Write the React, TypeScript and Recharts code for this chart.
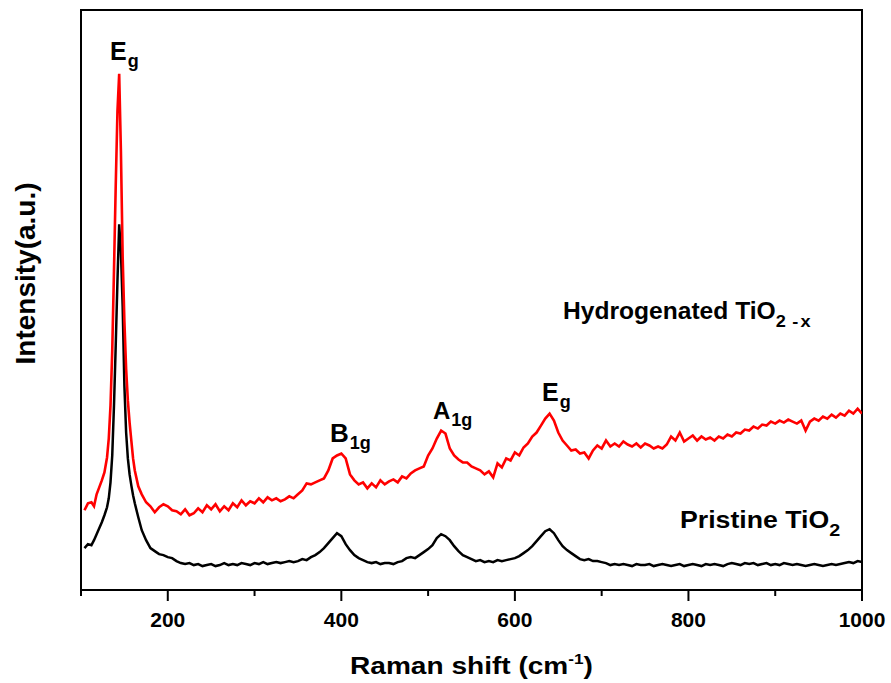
import { LineChart, Line, XAxis, YAxis, ReferenceArea } from 'recharts'

// Raman shift (cm-1), denser sampling around the big Eg peak
const ramanShift = [
  104, 108, 112, 115, 118, 121, 124, 127, 130, 132,
  134, 136, 138, 140, 142, 144, 146, 148, 150, 152,
  154, 156, 158, 160, 162, 166, 170, 175, 180, 185,
  190, 195,
  200, 205, 210, 215, 220, 225, 230, 235, 240, 245,
  250, 255, 260, 265, 270, 275, 280, 285, 290, 295,
  300, 305, 310, 315, 320, 325, 330, 335, 340, 345,
  350, 355, 360, 365, 370, 375, 380, 385, 390, 395,
  400, 405, 410, 415, 420, 425, 430, 435, 440, 445,
  450, 455, 460, 465, 470, 475, 480, 485, 490, 495,
  500, 505, 510, 515, 520, 525, 530, 535, 540, 545,
  550, 555, 560, 565, 570, 575, 580, 585, 590, 595,
  600, 605, 610, 615, 620, 625, 630, 635, 640, 645,
  650, 655, 660, 665, 670, 675, 680, 685, 690, 695,
  700, 705, 710, 715, 720, 725, 730, 735, 740, 745,
  750, 755, 760, 765, 770, 775, 780, 785, 790, 795,
  800, 805, 810, 815, 820, 825, 830, 835, 840, 845,
  850, 855, 860, 865, 870, 875, 880, 885, 890, 895,
  900, 905, 910, 915, 920, 925, 930, 935, 940, 945,
  950, 955, 960, 965, 970, 975, 980, 985, 990, 995,
  1000,
]

const pristineTiO2 = [
  42, 46, 45, 50, 56, 62, 68, 75, 83, 92,
  108, 135, 185, 245, 310, 367, 340, 285, 205, 158,
  132, 116, 105, 95, 87, 73, 60, 50, 42, 39,
  36, 35,
  33, 32, 29, 27, 26, 27, 25, 26, 24, 25,
  26, 24, 25, 27, 25, 26, 25, 27, 26, 25,
  27, 26, 28, 26, 27, 28, 27, 28, 29, 28,
  29, 31, 30, 33, 35, 38, 42, 47, 52, 57,
  54, 46, 40, 35, 32, 30, 28, 27, 28, 26,
  27, 27, 26, 28, 29, 32, 33, 32, 35, 38,
  41, 45, 52, 56, 54, 50, 44, 39, 35, 33,
  31, 29, 30, 28, 29, 28, 30, 29, 30, 31,
  32, 34, 37, 40, 44, 49, 54, 59, 61, 57,
  50, 44, 40, 37, 34, 31, 30, 31, 29, 29,
  28, 27, 25, 26, 25, 26, 25, 24, 26, 25,
  25, 26, 24, 25, 26, 25, 24, 25, 26, 24,
  25, 26, 25, 24, 26, 25, 26, 25, 24, 26,
  27, 26, 25, 27, 26, 27, 25, 26, 27, 25,
  26, 25, 27, 26, 25, 26, 25, 24, 25, 26,
  25, 24, 25, 26, 25, 26, 27, 28, 27, 29,
  28,
]

const hydrogenatedTiO2x = [
  80, 87, 88, 84, 96, 103, 110, 118, 133, 152,
  185, 240, 320, 405, 480, 518, 440, 335, 270, 222,
  190, 168, 150, 132, 120, 104, 96, 88, 84, 78,
  83, 86,
  84, 80, 79, 76, 81, 75, 77, 82, 78, 85,
  81, 86, 79, 84, 80, 87, 83, 90, 85, 89,
  87, 92, 88, 93, 90, 92, 89, 91, 94, 92,
  96, 100, 107, 106, 108, 110, 112, 120, 132, 135,
  137, 132, 116, 110, 106, 108, 102, 107, 103, 110,
  106, 109, 111, 108, 114, 112, 117, 120, 122, 124,
  135, 142, 152, 160, 157, 142, 135, 131, 128, 128,
  124, 122, 120, 116, 119, 113, 127, 123, 132, 130,
  138, 135, 143, 147, 154, 158, 165, 172, 177, 170,
  158, 150, 145, 140, 141, 137, 138, 132, 140, 145,
  142, 150, 144, 147, 144, 149, 146, 144, 147, 143,
  147, 145, 142, 144, 142, 146, 154, 150, 158, 149,
  152, 155, 150, 154, 151, 153, 150, 154, 152, 156,
  154, 158, 157, 161, 160, 164, 162, 166, 165, 169,
  167, 170, 168, 171, 169, 167, 170, 160, 169, 172,
  170, 174, 172, 176, 173, 177, 175, 180, 177, 182,
  177,
]

const xTicks = [100, 200, 300, 400, 500, 600, 700, 800, 900, 1000]

const FONT = "'Liberation Sans', Arial, Helvetica, sans-serif"

const rows = ramanShift.map((shift, i) => ({
  shift,
  pristine: pristineTiO2[i],
  hydro: hydrogenatedTiO2x[i],
}))

function RamanTick(props: any) {
  const { x, y, payload } = props
  const major = payload.value % 200 === 0
  return (
    <g>
      <line x1={x} x2={x} y1={y} y2={y + (major ? 11 : 6)} stroke="#000" strokeWidth={2} />
      {major && (
        <text x={x} y={y + 37} textAnchor="middle" fontFamily={FONT} fontWeight="bold" fontSize={21} fill="#000">
          {payload.value}
        </text>
      )}
    </g>
  )
}

function PeakLabel({ x, y, main, sub, size }: { x: number; y: number; main: string; sub: string; size: number }) {
  return (
    <text x={x} y={y} fontFamily={FONT} fontWeight="bold" fontSize={size} fill="#000">
      {main}
      <tspan fontSize={18} dx={1} dy={7}>{sub}</tspan>
    </text>
  )
}

export default function App() {
  return (
    <div style={{ position: 'relative', width: 891, height: 683, background: '#fff' }}>
      <style>{'body{margin:0}'}</style>
      <LineChart width={891} height={683} data={rows} margin={{ top: 10, right: 29, left: 81, bottom: 33 }}>
        <XAxis
          type="number"
          dataKey="shift"
          domain={[100, 1000]}
          ticks={xTicks}
          interval={0}
          allowDataOverflow
          axisLine={false}
          tickLine={false}
          tickSize={0}
          tickMargin={0}
          height={60}
          tick={<RamanTick />}
        />
        <YAxis hide type="number" domain={[0, 582]} allowDataOverflow />
        <ReferenceArea x1={100} x2={1000} y1={0} y2={582} fill="none" stroke="#000" strokeWidth={2} ifOverflow="visible" />
        <Line type="linear" dataKey="pristine" stroke="#000" strokeWidth={2.5} dot={false} isAnimationActive={false} />
        <Line type="linear" dataKey="hydro" stroke="#f00" strokeWidth={2.6} dot={false} isAnimationActive={false} />
      </LineChart>

      <svg width={891} height={683} style={{ position: 'absolute', left: 0, top: 0, pointerEvents: 'none' }}>
        <PeakLabel x={110} y={60} main="E" sub="g" size={25} />
        <PeakLabel x={330} y={442} main="B" sub="1g" size={26} />
        <PeakLabel x={433} y={419} main="A" sub="1g" size={24} />
        <PeakLabel x={542} y={401} main="E" sub="g" size={25} />

        <text transform="translate(563 319) scale(1.07 1)" fontFamily={FONT} fontWeight="bold" fontSize={23} fill="#000">
          Hydrogenated TiO
          <tspan fontSize={17} dy={8}>2</tspan>
          <tspan fontSize={17} dx={6} letterSpacing={2}>-x</tspan>
        </text>
        <text transform="translate(680 528) scale(1.16 1)" fontFamily={FONT} fontWeight="bold" fontSize={23} fill="#000">
          Pristine TiO
          <tspan fontSize={17} dy={8}>2</tspan>
        </text>

        <text transform="translate(471.5 674) scale(1.146 1)" textAnchor="middle" fontFamily={FONT} fontWeight="bold" fontSize={24.5} fill="#000">
          Raman shift (cm
          <tspan fontSize={15} dy={-10}>-1</tspan>
          <tspan dy={10}>)</tspan>
        </text>
        <text transform="translate(35 273.5) rotate(-90)" textAnchor="middle" fontFamily={FONT} fontWeight="bold" fontSize={28} fill="#000">
          Intensity(a.u.)
        </text>
      </svg>
    </div>
  )
}
